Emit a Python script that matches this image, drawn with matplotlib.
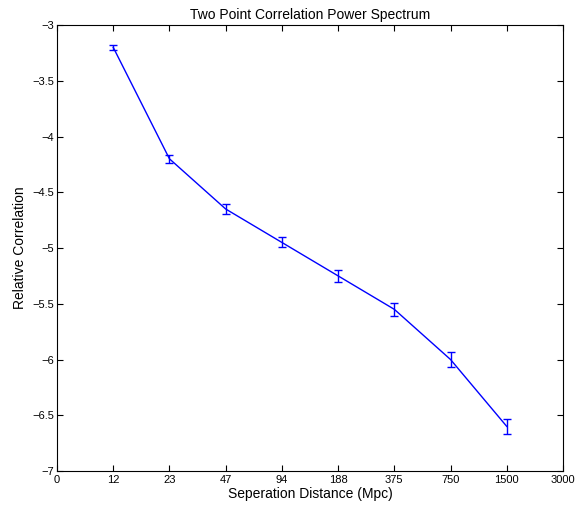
import matplotlib
matplotlib.use("Agg")
import matplotlib.pyplot as plt

plt.rcParams['font.family'] = ['Liberation Sans', 'DejaVu Sans']

tick_labels = ['0', '12', '23', '47', '94', '188', '375', '750', '1500', '3000']
distances = ['12', '23', '47', '94', '188', '375', '750', '1500']
correlation = [-3.2, -4.2, -4.65, -4.95, -5.25, -5.55, -6.0, -6.6]
errors = [0.02, 0.035, 0.045, 0.045, 0.055, 0.06, 0.065, 0.07]
yticks = [-7, -6.5, -6, -5.5, -5, -4.5, -4, -3.5, -3]

fig = plt.figure(figsize=(5.78, 5.05), dpi=100)
ax = fig.add_axes([0.0986, 0.0673, 0.8754, 0.8832])

xpos = [tick_labels.index(d) for d in distances]
ax.errorbar(xpos, correlation, yerr=errors, color='#0000ff', lw=1.0,
            elinewidth=1.0, capsize=3, capthick=1.0)

ax.set_xlim(0, len(tick_labels) - 1)
ax.set_ylim(-7, -3)
ax.set_xticks(range(len(tick_labels)))
ax.set_xticklabels(tick_labels)
ax.set_yticks(yticks)
ax.set_yticklabels([('%g' % v).replace('-', '\u2212') for v in yticks])
ax.tick_params(direction='in', top=True, right=True, labelsize=8, length=4, width=0.8)
ax.tick_params(axis='y', pad=2)
ax.tick_params(axis='x', pad=3)
for s in ax.spines.values():
    s.set_linewidth(0.8)

ax.set_title('Two Point Correlation Power Spectrum', fontsize=10, pad=4)
ax.set_xlabel('Seperation Distance (Mpc)', fontsize=10, labelpad=1)
ax.set_ylabel('Relative Correlation', fontsize=10, labelpad=4)

fig.savefig('out.png', dpi=100)
